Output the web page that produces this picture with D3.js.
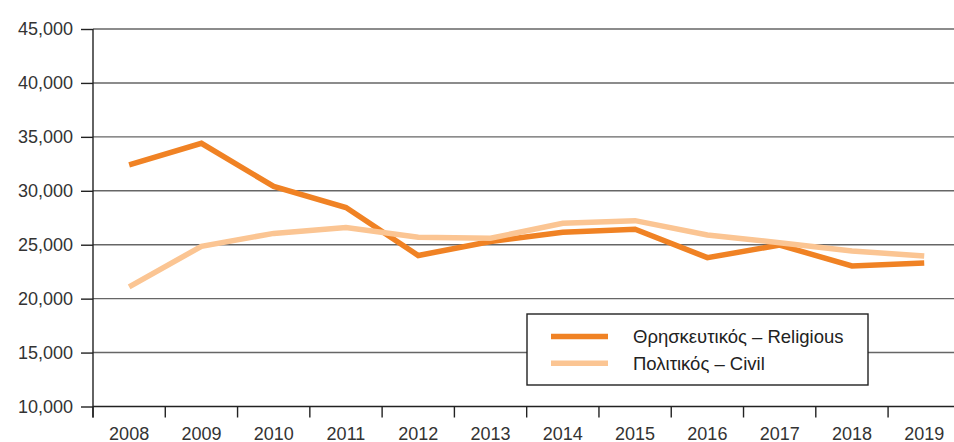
<!DOCTYPE html>
<html>
<head>
<meta charset="utf-8">
<script src="https://cdn.jsdelivr.net/npm/d3@7"></script>
<style>
  body { margin: 0; background: #fff; }
  svg { display: block; font-family: "Liberation Sans", Arial, sans-serif; }
</style>
</head>
<body>
<svg width="954" height="442"></svg>
<script>
// data
var years = ['2008','2009','2010','2011','2012','2013','2014','2015','2016','2017','2018','2019'];
var religious = [32400, 34400, 30400, 28450, 24000, 25300, 26150, 26430, 23800, 24970, 23030, 23300];
var civil = [21100, 24850, 26050, 26600, 25700, 25600, 26980, 27230, 25900, 25190, 24420, 23950];
var yTicks = [10000, 15000, 20000, 25000, 30000, 35000, 40000, 45000];
var seriesNames = ['Θρησκευτικός – Religious', 'Πολιτικός – Civil'];
var colors = ['#f08224', '#fbc593'];

var svg = d3.select('svg');
var padL = 93, padT = 29, baseY = 406.5, band = 72.28;

var x = d3.scaleBand().domain(years).range([padL, padL + band * years.length]);
var y = d3.scaleLinear().domain([10000, 45000]).range([baseY, padT]);

// gridlines
svg.append('g').selectAll('line').data(yTicks.slice(1)).join('line')
  .attr('x1', padL).attr('x2', 954)
  .attr('y1', function (d) { return y(d); }).attr('y2', function (d) { return y(d); })
  .attr('stroke', '#666').attr('stroke-width', 1.4);

// y axis
var yAxis = svg.append('g').attr('transform', 'translate(' + padL + ',0)')
  .call(d3.axisLeft(y).tickValues(yTicks).tickSize(12).tickPadding(8).tickFormat(d3.format(',')));
yAxis.select('.domain').remove();
yAxis.selectAll('line').attr('stroke', '#222').attr('stroke-width', 1.4);
yAxis.selectAll('text').attr('font-size', 18).attr('fill', '#333').attr('font-family', null);

svg.append('line').attr('x1', padL).attr('x2', padL).attr('y1', padT).attr('y2', baseY + 11)
  .attr('stroke', '#222').attr('stroke-width', 1.4);

// x axis
svg.append('line').attr('x1', padL).attr('x2', 954).attr('y1', baseY).attr('y2', baseY)
  .attr('stroke', '#222').attr('stroke-width', 1.4);
svg.append('g').selectAll('line').data(years).join('line')
  .attr('x1', function (d) { return x(d); }).attr('x2', function (d) { return x(d); })
  .attr('y1', baseY).attr('y2', baseY + 11)
  .attr('stroke', '#222').attr('stroke-width', 1.4);
svg.append('g').selectAll('text').data(years).join('text')
  .attr('x', function (d) { return x(d) + x.bandwidth() / 2; })
  .attr('y', 439.5)
  .attr('text-anchor', 'middle').attr('font-size', 18).attr('fill', '#333')
  .text(function (d) { return d; });

// lines
var line = d3.line()
  .x(function (d, i) { return x(years[i]) + x.bandwidth() / 2; })
  .y(function (d) { return y(d); });

[religious, civil].forEach(function (s, i) {
  svg.append('path').datum(s)
    .attr('d', line).attr('fill', 'none')
    .attr('stroke', colors[i]).attr('stroke-width', 5.5);
});

// legend
var lg = svg.append('g');
lg.append('rect').attr('x', 527).attr('y', 314).attr('width', 341).attr('height', 71)
  .attr('fill', '#fff').attr('stroke', '#222').attr('stroke-width', 1.4);
seriesNames.forEach(function (n, i) {
  var ly = 336.5 + i * 26.7;
  lg.append('line').attr('x1', 551).attr('x2', 608).attr('y1', ly).attr('y2', ly)
    .attr('stroke', colors[i]).attr('stroke-width', 5.5);
  lg.append('text').attr('x', 633).attr('y', ly + 6.5)
    .attr('font-size', 18.5).attr('fill', '#222').text(n);
});
</script>
</body>
</html>
